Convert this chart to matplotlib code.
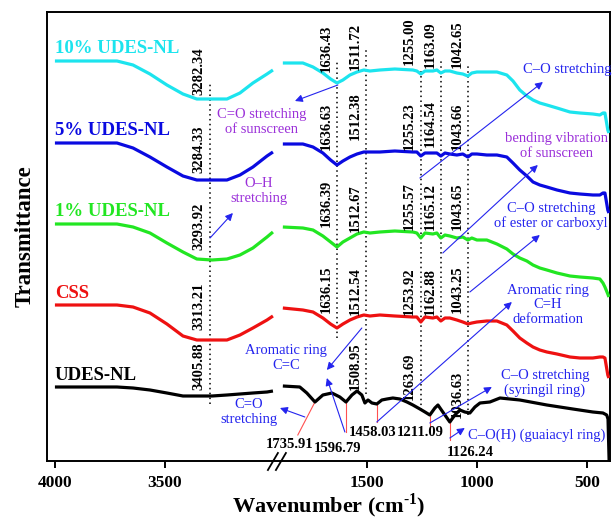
import numpy as np
import matplotlib
matplotlib.use("Agg")
import matplotlib.pyplot as plt

plt.rcParams['font.family'] = ['Liberation Serif', 'DejaVu Serif']
plt.rcParams['mathtext.fontset'] = 'custom'
plt.rcParams['mathtext.rm'] = 'Liberation Serif'
plt.rcParams['mathtext.bf'] = 'Liberation Serif:bold'

# ---------------- data (wavenumber cm-1, transmittance a.u.) ----------------
left_wn = [4000, 3718, 3645, 3568, 3491, 3418, 3355, 3286, 3218, 3159, 3100, 3036, 3009]
cyan_left = [409, 409, 405, 396, 385, 376, 371, 371, 371, 377, 387, 396, 400]
blue_left = [327, 327, 322, 313, 303, 294, 290, 290, 290, 295, 303, 314, 318]
green_left = [246, 246, 243, 237, 227, 218, 211, 210, 211, 215, 222, 233, 238]
red_left = [165, 165, 163, 157, 146, 134, 130, 130, 130, 135, 142, 150, 154]
black_left = [83, 83, 82, 80, 77, 74, 74, 74, 75, 76, 77, 78, 79]

right_wn = [1882, 1791, 1745, 1700, 1665, 1636, 1609, 1577, 1545, 1514, 1486, 1441, 1373,
            1291, 1273, 1255, 1236, 1200, 1182, 1164, 1145, 1123, 1091, 1064, 1041, 1023,
            1000, 955, 909, 864, 836, 805, 773, 745, 714, 682, 636, 577, 532, 473, 441,
            427, 418, 405, 400]
cyan_right = [407, 407, 403, 397, 391, 387, 390, 395, 398, 400, 399, 400, 401,
              400, 399, 396, 399, 399, 400, 397, 399, 399, 397, 396, 394, 397,
              398, 398, 398, 395, 389, 380, 374, 370, 367, 365, 362, 358, 357, 356, 355,
              357, 357, 340, 337]
blue_right = [326, 326, 323, 317, 310, 305, 309, 313, 316, 318, 318, 318, 319,
              318, 318, 314, 317, 317, 317, 314, 317, 316, 315, 316, 313, 316,
              316, 315, 315, 313, 307, 300, 294, 288, 285, 283, 280, 277, 276, 275, 275,
              277, 277, 260, 257]
green_right = [243, 242, 240, 234, 228, 223, 228, 232, 236, 238, 237, 238, 239,
               238, 237, 232, 237, 236, 237, 232, 235, 234, 232, 233, 230, 232,
               230, 230, 226, 221, 216, 212, 209, 205, 202, 200, 197, 194, 193, 192, 191,
               187, 183, 176, 173]
red_right = [162, 160, 158, 152, 146, 142, 146, 150, 153, 155, 154, 155, 154,
             153, 153, 148, 153, 152, 153, 149, 152, 152, 150, 148, 146, 147,
             148, 149, 149, 145, 139, 132, 127, 123, 120, 118, 116, 113, 112, 112, 113,
             113, 112, 95, 92]
black_right_wn = [1882, 1805, 1773, 1736, 1700, 1659, 1623, 1595, 1568, 1545, 1523, 1509,
                  1495, 1477, 1455, 1432, 1409, 1382, 1350, 1318, 1291, 1259, 1236, 1214,
                  1191, 1177, 1155, 1123, 1100, 1077, 1055, 1032, 1009, 986, 941, 895,
                  805, 682, 564, 473, 427, 410, 404, 399]
black_right = [84, 83, 77, 68, 75, 77, 73, 68, 75, 79, 75, 67,
               70, 67, 66, 70, 71, 72, 71, 68, 65, 61, 58, 55,
               62, 65, 58, 48, 55, 60, 58, 57, 63, 67, 68, 72,
               70, 65, 61, 58, 57, 55, 51, 9]

series_names = ["10% UDES-NL", "5% UDES-NL", "1% UDES-NL", "CSS", "UDES-NL"]
series_colors = ["#1CE4EE", "#0A0AE0", "#22E622", "#EE1111", "#000000"]
lefts = [cyan_left, blue_left, green_left, red_left, black_left]
rights = [cyan_right, blue_right, green_right, red_right, black_right]
right_wns = [right_wn, right_wn, right_wn, right_wn, black_right_wn]

# peak labels per row (text), dotted reference lines
left_peak_labels = ["3282.34", "3284.33", "3293.92", "3313.21", "3405.88"]
row_peak_labels = [
    ["1636.43", "1511.72", "1255.00", "1163.09", "1042.65"],
    ["1636.63", "1512.38", "1255.23", "1164.54", "1043.66"],
    ["1636.39", "1512.67", "1255.57", "1165.12", "1043.65"],
    ["1636.15", "1512.54", "1253.92", "1162.88", "1043.25"],
]
black_peak_labels = ["1508.95", "1263.69", "1036.63"]
ref_lines = [3296, 1636, 1505, 1256, 1162, 1039]
black_bands = ["1735.91", "1596.79", "1458.03", "1211.09", "1126.24"]
xticks = [4000, 3500, 1500, 1000, 500]

# ---------------- broken x scale ----------------
def fwd(x):
    x = np.asarray(x, dtype=float)
    return np.where(x >= 3000, x, np.where(x >= 1900, 3000 - 18 * (3000 - x) / 1100, x + 1082))

def inv(g):
    g = np.asarray(g, dtype=float)
    return np.where(g >= 3000, g, np.where(g >= 2982, 3000 - (3000 - g) * 1100 / 18, g - 1082))

fig = plt.figure(figsize=(6.12, 5.19), dpi=100)
ax = fig.add_axes([47 / 612, 1 - 461 / 519, 563 / 612, 449 / 519])
ax.set_xscale('function', functions=(fwd, inv))
ax.set_xlim(4036, 395)
ax.set_ylim(9, 458)

for name, col, yl, yr, wr in zip(series_names, series_colors, lefts, rights, right_wns):
    ax.plot(left_wn, yl, color=col, lw=2.3, solid_capstyle='butt', zorder=3)
    ax.plot(wr, yr, color=col, lw=2.3, solid_capstyle='butt', solid_joinstyle='round', zorder=3)

# dotted reference lines (x, ymin, ymax)
line_spans = [(387, 66), (408, 132), (423, 76), (400, 60), (410, 148), (405, 55)]
for x, (y1, y0) in zip(ref_lines, line_spans):
    ax.vlines(x, y0, y1, colors='black', linestyles=(0, (1, 2.2)), lw=1.1, zorder=2)

lab_kw = dict(rotation=90, ha='center', va='bottom', fontsize=10.5, fontweight='bold',
              textcoords='offset pixels', xytext=(-11, 0), annotation_clip=False)
left_bottoms = [375, 297, 220, 140, 80]
for t, yb in zip(left_peak_labels, left_bottoms):
    ax.annotate(t, xy=(ref_lines[0], yb), **lab_kw)
row_bottoms = [[398, 400, 405, 402, 402], [320, 330, 320, 323, 320],
               [243, 238, 240, 240, 240], [157, 155, 155, 155, 157]]
for labels, bottoms in zip(row_peak_labels, row_bottoms):
    for t, x, yb in zip(labels, ref_lines[1:], bottoms):
        ax.annotate(t, xy=(x, yb), **lab_kw)
for t, x, yb in zip(black_peak_labels, [ref_lines[2], ref_lines[3], ref_lines[5]], [80, 70, 52]):
    ax.annotate(t, xy=(x, yb), **lab_kw)

# series names
name_y = [417, 335, 254, 172, 90]
for name, col, y in zip(series_names, series_colors, name_y):
    ax.text(4000, y, name, color=col, fontsize=13.5, fontweight='bold', ha='left', va='baseline')

# black band markers (thin red lines) and labels
red_segs = [((1736, 68), (1814, 35)), ((1595, 68), (1595, 38)), ((1455, 66), (1455, 48)),
            ((1214, 55), (1214, 42)), ((1123, 48), (1123, 30))]
for (p0, p1) in red_segs:
    ax.plot([p0[0], p1[0]], [p0[1], p1[1]], color='#FF5050', lw=0.8, zorder=2)
band_pos = [(1850, 26), (1632, 21), (1473, 38), (1259, 37), (1032, 18)]
for t, (x, y) in zip(black_bands, band_pos):
    ax.text(x, y, t, fontsize=10.5, fontweight='bold', ha='center', va='center')

purple = '#9B30D9'
blue = '#2424EE'
notes = [
    ("C=O stretching\nof sunscreen", purple, 3059, 348),
    ("O\u2013H\nstretching", purple, 3073, 279),
    ("bending vibration\nof sunscreen", purple, 636, 324),
    ("C\u2013O stretching", blue, 591, 401),
    ("C\u2013O stretching\nof ester or carboxyl", blue, 664, 254),
    ("Aromatic ring\nC=H\ndeformation", blue, 677, 165),
    ("Aromatic ring\nC=C", blue, 1868, 112),
    ("C=O\nstretching", blue, 3118, 58),
    ("C\u2013O stretching\n(syringil ring)", blue, 691, 87),
    ("C\u2013O(H) (guaiacyl ring)", blue, 727, 35),
]
for t, c, x, y in notes:
    ax.text(x, y, t, color=c, fontsize=10.5, ha='center', va='center', linespacing=1.15)

arrows = [((1632, 385), (1827, 369)), ((1259, 292), (700, 388)), ((1155, 217), (723, 305)),
          ((1032, 178), (714, 235)), ((1455, 48), (841, 168)), ((1214, 47), (932, 83)),
          ((1123, 32), (1055, 42)), ((1523, 142), (1682, 100)), ((1600, 38), (1682, 92)),
          ((1782, 53), (1895, 62)), ((3295, 232), (3191, 257))]
for (s, e) in arrows:
    ax.annotate('', xy=e, xytext=s,
                arrowprops=dict(arrowstyle='-|>', color=blue, lw=0.8, mutation_scale=11,
                                shrinkA=0, shrinkB=0), annotation_clip=False)

# axes styling
for sp in ax.spines.values():
    sp.set_linewidth(1.4)
ax.set_yticks([])
ax.set_xticks(xticks, [str(v) for v in xticks])
ax.tick_params(axis='x', direction='out', length=5, width=1.4, pad=5, labelsize=12.5)
for lbl in ax.get_xticklabels():
    lbl.set_fontweight('bold')
ax.set_xlabel('Wavenumber (cm$^{\\mathbf{\u2010}\\mathbf{1}}$)', fontsize=16, fontweight='bold', labelpad=0)
ax.set_ylabel('Transmittance', fontsize=16.5, fontweight='bold', labelpad=8)

# break marks on bottom axis
bx = ax.transAxes.inverted().transform(ax.transData.transform((2450, 100)))[0]
dx, dy = 1 / 563, 1 / 449
for off in (-4, 4):
    ax.plot([bx + (off - 5) * dx, bx + (off + 5) * dx], [-9 * dy, 8 * dy],
            transform=ax.transAxes, color='black', lw=1.3, clip_on=False, zorder=5)

fig.savefig('out.png', dpi=100)
